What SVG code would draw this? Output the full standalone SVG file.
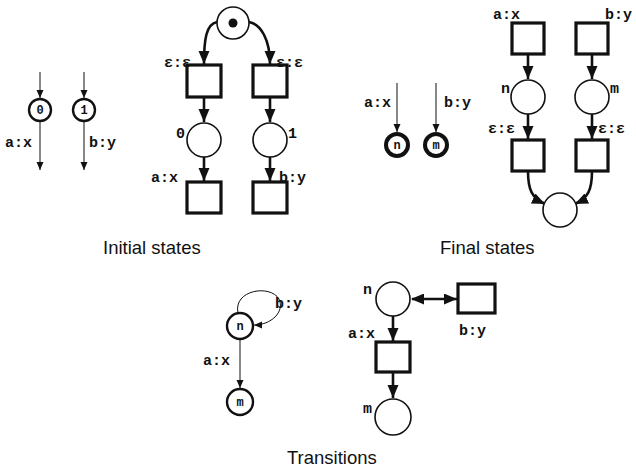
<svg xmlns="http://www.w3.org/2000/svg" width="636" height="472" viewBox="0 0 636 472">
<style>
.lab{font-family:"Liberation Mono",monospace;font-weight:bold;font-size:15px;fill:#111}
.in{font-family:"Liberation Mono",monospace;font-weight:bold;font-size:12px;fill:#111;text-anchor:middle}
.cap{font-family:"Liberation Sans",Arial,sans-serif;font-size:18.5px;fill:#111}
.pl{fill:#fff;stroke:#111;stroke-width:1.6}
.tr{fill:#fff;stroke:#111;stroke-width:3.2}
.st{fill:#fff;stroke:#111;stroke-width:2.4}
.fs{fill:#fff;stroke:#111;stroke-width:4}
.arc{fill:none;stroke:#111;stroke-width:2.6}
.thin{fill:none;stroke:#111;stroke-width:1}
</style>
<defs>
<marker id="big" markerUnits="userSpaceOnUse" markerWidth="14" markerHeight="12" refX="13" refY="5.5" orient="auto"><path d="M0,0 L13,5.5 L0,11 z" fill="#111"/></marker>
<marker id="bigs" markerUnits="userSpaceOnUse" markerWidth="14" markerHeight="12" refX="1" refY="5.5" orient="auto"><path d="M13,0 L0,5.5 L13,11 z" fill="#111"/></marker>
<marker id="sm" markerUnits="userSpaceOnUse" markerWidth="9" markerHeight="8" refX="8" refY="3.5" orient="auto"><path d="M0,0 L8,3.5 L0,7 z" fill="#111"/></marker>
</defs>
<g id="connectors">
<line class="thin" x1="40" y1="72" x2="40" y2="98" marker-end="url(#sm)"/>
<line class="thin" x1="40" y1="122" x2="40" y2="170" marker-end="url(#sm)"/>
<line class="thin" x1="84" y1="72" x2="84" y2="98" marker-end="url(#sm)"/>
<line class="thin" x1="84" y1="122" x2="84" y2="170" marker-end="url(#sm)"/>
<path class="arc" d="M217,22 C206,24 204,40 204,64" marker-end="url(#big)"/>
<path class="arc" d="M249,22 C261,24 270,40 270,64" marker-end="url(#big)"/>
<line class="arc" x1="204" y1="97" x2="204" y2="122" marker-end="url(#big)"/>
<line class="arc" x1="270" y1="97" x2="270" y2="122" marker-end="url(#big)"/>
<line class="arc" x1="204" y1="157" x2="204" y2="181" marker-end="url(#big)"/>
<line class="arc" x1="270" y1="157" x2="270" y2="181" marker-end="url(#big)"/>
<line class="thin" x1="397" y1="83" x2="397" y2="132" marker-end="url(#sm)"/>
<line class="thin" x1="436" y1="83" x2="436" y2="132" marker-end="url(#sm)"/>
<line class="arc" x1="528" y1="54" x2="528" y2="79" marker-end="url(#big)"/>
<line class="arc" x1="592" y1="54" x2="592" y2="79" marker-end="url(#big)"/>
<line class="arc" x1="528" y1="114" x2="528" y2="139" marker-end="url(#big)"/>
<line class="arc" x1="592" y1="114" x2="592" y2="139" marker-end="url(#big)"/>
<path class="arc" d="M528,171 C528,190 532,198 545,204" marker-end="url(#big)"/>
<path class="arc" d="M592,171 C592,190 588,198 575,204" marker-end="url(#big)"/>
<line class="thin" x1="240" y1="339" x2="240" y2="388" marker-end="url(#sm)"/>
<path class="thin" d="M238,313 C233,290 270,284 279,299 C285,312 271,325 254,325" marker-end="url(#sm)"/>
<line class="arc" x1="412" y1="299" x2="457" y2="299" marker-start="url(#bigs)" marker-end="url(#big)"/>
<line class="arc" x1="393" y1="316" x2="393" y2="341" marker-end="url(#big)"/>
<line class="arc" x1="393" y1="372" x2="393" y2="398" marker-end="url(#big)"/>
</g>
<g id="init-s0"><circle class="st" cx="40" cy="110" r="11"/><text class="in" x="40" y="114">0</text></g>
<g id="init-s1"><circle class="st" cx="84" cy="110" r="11"/><text class="in" x="84" y="114">1</text></g>
<g id="init-labels"><text class="lab" x="5" y="147">a:x</text><text class="lab" x="89" y="147">b:y</text></g>
<g id="init-start"><circle class="pl" cx="233" cy="23" r="16"/><circle cx="233" cy="23" r="4.5" fill="#111"/></g>
<g id="init-t1"><rect class="tr" x="187" y="65" width="34" height="32"/><text class="lab" x="164" y="67">ε:ε</text></g>
<g id="init-t2"><rect class="tr" x="253" y="65" width="34" height="32"/><text class="lab" x="276" y="67">ε:ε</text></g>
<g id="init-p0"><circle class="pl" cx="204" cy="140" r="17"/><text class="lab" x="176" y="138">0</text></g>
<g id="init-p1"><circle class="pl" cx="270" cy="140" r="17"/><text class="lab" x="288" y="138">1</text></g>
<g id="init-t3"><rect class="tr" x="187" y="182" width="34" height="31"/><text class="lab" x="151" y="182">a:x</text></g>
<g id="init-t4"><rect class="tr" x="253" y="182" width="34" height="31"/><text class="lab" x="279" y="182">b:y</text></g>
<g id="fin-n"><circle class="fs" cx="397" cy="145" r="11"/><text class="in" x="397" y="149">n</text></g>
<g id="fin-m"><circle class="fs" cx="436" cy="145" r="11"/><text class="in" x="436" y="149">m</text></g>
<g id="fin-labels"><text class="lab" x="364" y="107">a:x</text><text class="lab" x="444" y="107">b:y</text></g>
<g id="fin-t1"><rect class="tr" x="512" y="23" width="32" height="31"/><text class="lab" x="493" y="19">a:x</text></g>
<g id="fin-t2"><rect class="tr" x="576" y="23" width="32" height="31"/><text class="lab" x="605" y="19">b:y</text></g>
<g id="fin-pn"><circle class="pl" cx="528" cy="97" r="17"/><text class="lab" x="501" y="93">n</text></g>
<g id="fin-pm"><circle class="pl" cx="592" cy="97" r="17"/><text class="lab" x="610" y="93">m</text></g>
<g id="fin-t3"><rect class="tr" x="512" y="140" width="32" height="31"/><text class="lab" x="488" y="133">ε:ε</text></g>
<g id="fin-t4"><rect class="tr" x="576" y="140" width="32" height="31"/><text class="lab" x="598" y="133">ε:ε</text></g>
<g id="fin-end"><circle class="pl" cx="560" cy="210" r="17"/></g>
<g id="tr-n"><circle class="st" cx="240" cy="326" r="13"/><text class="in" x="240" y="330">n</text></g>
<g id="tr-m"><circle class="st" cx="240" cy="402" r="13"/><text class="in" x="240" y="406">m</text></g>
<g id="tr-labels"><text class="lab" x="203" y="365">a:x</text><text class="lab" x="275" y="308">b:y</text></g>
<g id="trp-n"><circle class="pl" cx="393" cy="299" r="17"/><text class="lab" x="363" y="294">n</text></g>
<g id="trp-loop"><rect class="tr" x="458" y="284" width="37" height="29"/><text class="lab" x="459" y="335">b:y</text></g>
<g id="trp-t"><rect class="tr" x="376" y="342" width="34" height="30"/><text class="lab" x="348" y="338">a:x</text></g>
<g id="trp-m"><circle class="pl" cx="393" cy="417" r="18"/><text class="lab" x="363" y="413">m</text></g>
<g id="captions">
<text class="cap" x="103" y="254">Initial states</text>
<text class="cap" x="440" y="254">Final states</text>
<text class="cap" x="287" y="464">Transitions</text>
</g>
</svg>
